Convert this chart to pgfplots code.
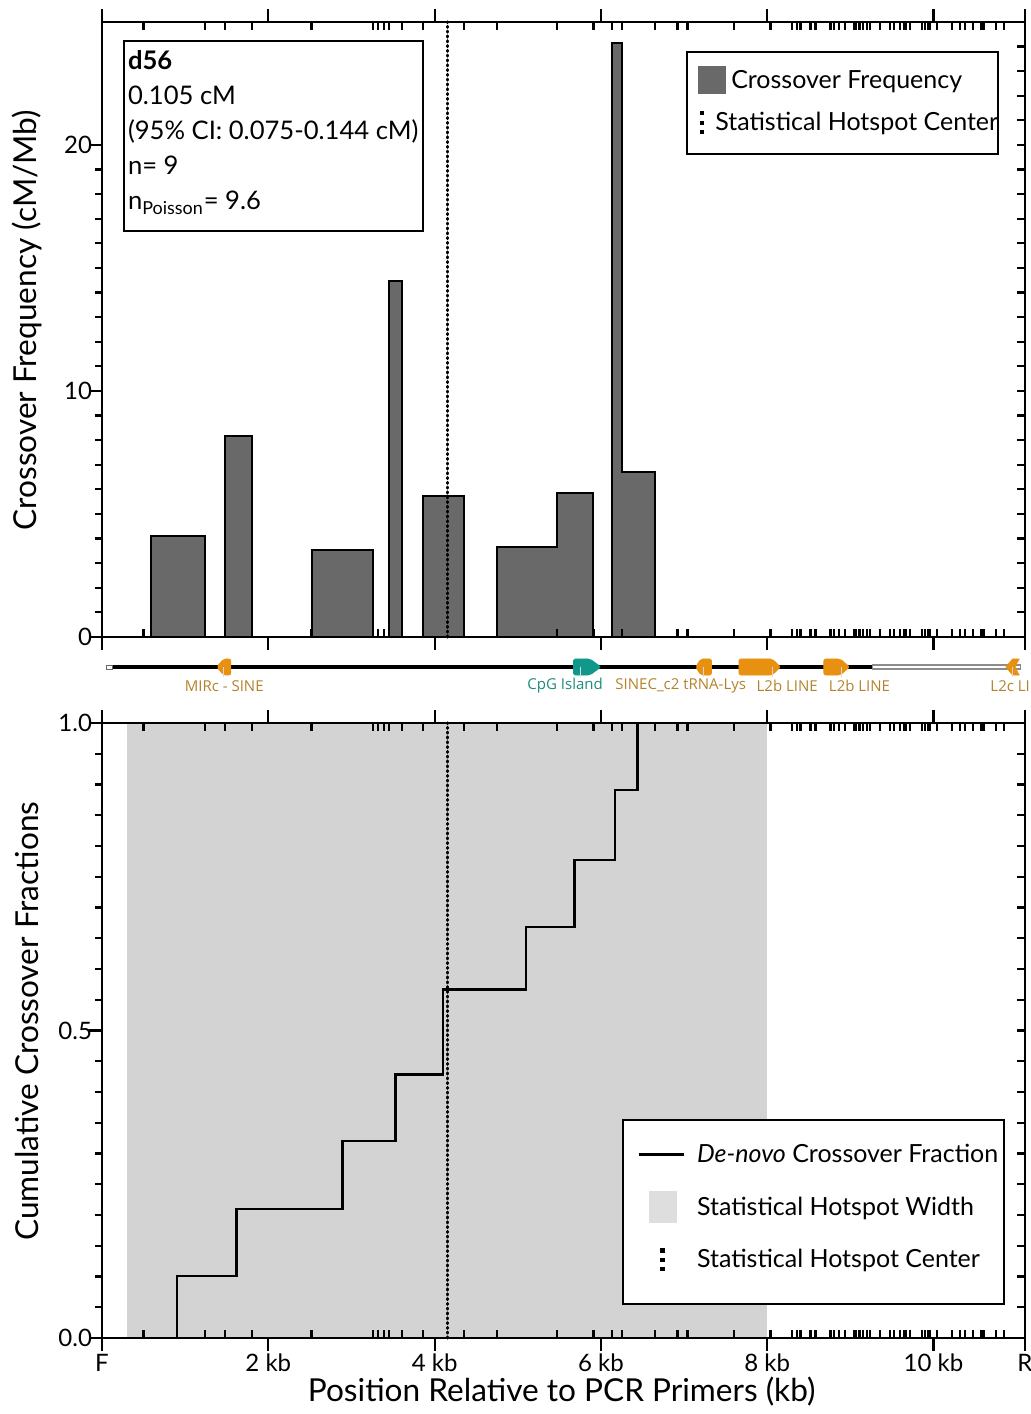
\documentclass[border=0pt]{standalone}
\usepackage{fontspec}
\setmainfont{Lato}
\newfontfamily\trackfont{Open Sans}
\usepackage{pgfplots}
\pgfplotsset{compat=1.18}

\definecolor{barfill}{HTML}{696969}
\definecolor{shade}{HTML}{D3D3D3}
\definecolor{shadelegend}{HTML}{DEDEDE}
\definecolor{repeatorange}{HTML}{E8900F}
\definecolor{repeatlabel}{HTML}{B5822C}
\definecolor{cpgteal}{HTML}{10998A}
\definecolor{cpglabel}{HTML}{1E8A7C}

% genotyped marker positions (kb from the forward primer)
\def\markerlist{0.50,1.24,1.48,1.80,2.52,3.26,3.32,3.39,3.45,3.61,3.86,4.35,4.75,5.47,5.91,6.13,6.25,6.65,6.92,7.04,7.60,8.04,8.30,8.36,8.40,8.52,8.58,8.76,8.80,8.86,8.94,9.04,9.07,9.11,9.15,9.20,9.24,9.36,9.48,9.52,9.60,9.64,9.67,9.72,9.86,9.90,9.94,9.96,10.04,10.22,10.32,10.38,10.47,10.57,10.60,10.75,10.85}

\tikzset{
  hotspot/.style={line width=1.55pt, dash pattern=on 0.5pt off 1.9pt, line cap=round, black},
  hotspotkey/.style={line width=2.1pt, dash pattern=on 2.1pt off 2.6pt, line cap=butt, black},
}

\pgfplotsset{
  panel/.style={
    scale only axis, width=461.5pt, height=307.5pt,
    xmin=0, xmax=11.1, anchor=south west, clip=false,
    axis line style={line width=1.2pt},
    every tick/.style={black, line width=1.1pt},
    /pgf/number format/assume math mode=true,
    tick label style={font=\fontsize{12}{12}\selectfont},
    yticklabel style={xshift=5pt},
    xticklabel style={yshift=2pt},
  },
  outerticks/.style={
    panel, tick align=outside,
    xtick={0,2,4,6,8,10,11.1}, xtick pos=both, ytick pos=left,
    major tick length=6.5pt, minor tick length=3.5pt,
  },
  innerticks/.style={
    panel, tick align=inside,
    xtick=\markerlist, xtick pos=both, ytick pos=right,
    xticklabels={}, yticklabels={},
    major tick length=4pt,
  },
  ylab/.style={every axis y label/.style={at={(axis description cs:-0.0813,0.515)},
    rotate=90, anchor=center, font=\fontsize{15.8}{18}\selectfont}},
}

\begin{document}
\begin{tikzpicture}
\useasboundingbox (0,0) rectangle (515.5pt,707pt);

% ---------------- upper panel: crossover frequency ----------------
\begin{axis}[outerticks, at={(51pt,388.5pt)},
  ymin=0, ymax=25, ytick={0,10,20}, minor y tick num=9,
  xticklabels={},
  ylabel={Crossover Frequency (cM/Mb)}, ylab,
]
\addplot[const plot, fill=barfill, draw=black, line width=1pt] coordinates {
  (0.59,4.10) (1.24,0) (1.48,8.17) (1.80,0) (2.52,3.54) (3.26,0)
  (3.45,14.47) (3.61,0) (3.86,5.73) (4.35,0) (4.75,3.66) (5.47,5.85)
  (5.91,0) (6.13,24.15) (6.25,6.70) (6.65,0)
} \closedcycle;
\addplot[hotspot] coordinates {(4.15,0) (4.15,25)};
% summary box
\node[draw, line width=1pt, fill=white, anchor=north west, inner sep=0pt,
  minimum width=149.5pt, minimum height=95pt] (sumbox)
  at (rel axis cs:0.0228,0.971) {};
\node[anchor=north west, align=left, inner sep=0pt,
  font=\fontsize{12.8}{17.5}\selectfont]
  at ([xshift=2.3pt,yshift=-5.2pt]sumbox.north west)
  {\textbf{d56}\\0.105 cM\\(95\% CI: 0.075-0.144 cM)\\n= 9\\n\textsubscript{Poisson}= 9.6};
\end{axis}

\begin{axis}[innerticks, at={(51pt,388.5pt)},
  ymin=0, ymax=25, ytick={0,1,...,25},
  legend style={at={(0.633,0.953)}, anchor=north west, draw=black, line width=1pt,
    fill=white, font=\fontsize{12.5}{14}\selectfont, inner xsep=5.5pt, inner ysep=7pt,
    row sep=6.5pt, /tikz/every odd column/.append style={column sep=0.5pt}},
  legend cell align=left,
]
\addlegendimage{legend image code/.code={\fill[barfill] (0pt,-6.5pt) rectangle (13pt,6.5pt);}}
\addlegendentry{Crossover Frequency}
\addlegendimage{legend image code/.code={\draw[hotspotkey] (1.5pt,5.8pt) -- (1.5pt,-5.8pt); \path (1.5pt,-8pt);}}
\addlegendentry{\kern-8pt Statistical Hotspot Center\kern-7.5pt}
\end{axis}

% ---------------- annotation track ----------------
\begin{axis}[scale only axis, width=461.5pt, height=35pt, at={(51pt,349.5pt)},
  anchor=south west, xmin=0, xmax=11.1, ymin=0, ymax=1, hide axis, clip=false]
\addplot[draw=black!60, fill=white, line width=0.5pt] coordinates {(0.06,0.657) (0.13,0.657) (0.13,0.714) (0.06,0.714)} -- cycle;
\addplot[black, line width=1.7pt] coordinates {(0.13,0.686) (9.27,0.686)};
\addplot[draw=black!45, fill=white, line width=0.6pt] coordinates {(9.27,0.657) (11.05,0.657) (11.05,0.714) (9.27,0.714)} -- cycle;
% repeat elements and CpG island
\addplot[fill=repeatorange, draw=repeatorange, line width=0.3pt, rounded corners=1pt] coordinates {(1.38,0.686) (1.46,0.8) (1.55,0.8) (1.55,0.571) (1.46,0.571)} -- cycle;
\addplot[fill=cpgteal, draw=cpgteal, line width=0.3pt, rounded corners=1pt] coordinates {(5.67,0.571) (5.87,0.571) (6.00,0.686) (5.87,0.8) (5.67,0.8)} -- cycle;
\addplot[fill=repeatorange, draw=repeatorange, line width=0.3pt, rounded corners=1pt] coordinates {(7.14,0.686) (7.20,0.8) (7.33,0.8) (7.33,0.571) (7.20,0.571)} -- cycle;
\addplot[fill=repeatorange, draw=repeatorange, line width=0.3pt, rounded corners=1pt] coordinates {(7.66,0.571) (8.06,0.571) (8.16,0.686) (8.06,0.8) (7.66,0.8)} -- cycle;
\addplot[fill=repeatorange, draw=repeatorange, line width=0.3pt, rounded corners=1pt] coordinates {(8.68,0.571) (8.88,0.571) (8.99,0.686) (8.88,0.8) (8.68,0.8)} -- cycle;
\addplot[fill=repeatorange, draw=repeatorange, line width=0.3pt] coordinates {(10.87,0.686) (10.95,0.8) (11.03,0.8) (10.98,0.686) (11.03,0.571) (10.95,0.571)} -- cycle;
\foreach \c in {1.46,5.76,7.23,8.06,8.89,10.95} {
  \edef\temp{\noexpand\addplot[white!85!black, line width=0.5pt] coordinates {(\c,0.686) (\c,0.54)};}
  \temp
}
\node[font=\trackfont\fontsize{7.5}{8}\selectfont, text=repeatlabel] at (axis cs:1.47,0.414) {MIRc - SINE};
\node[font=\trackfont\fontsize{7.5}{8}\selectfont, text=cpglabel] at (axis cs:5.57,0.414) {CpG Island};
\node[font=\trackfont\fontsize{7.5}{8}\selectfont, text=repeatlabel] at (axis cs:6.96,0.414) {SINEC\_c2 tRNA-Lys};
\node[font=\trackfont\fontsize{7.5}{8}\selectfont, text=repeatlabel] at (axis cs:8.24,0.414) {L2b LINE};
\node[font=\trackfont\fontsize{7.5}{8}\selectfont, text=repeatlabel] at (axis cs:9.11,0.414) {L2b LINE};
\node[font=\trackfont\fontsize{7.5}{8}\selectfont, text=repeatlabel, anchor=west] at (axis cs:10.60,0.414) {L2c LI};
\end{axis}

% ---------------- lower panel: cumulative crossover fraction ----------------
\begin{axis}[outerticks, at={(51pt,38pt)},
  ymin=0, ymax=1, ytick={0,0.5,1}, minor y tick num=9,
  yticklabel style={/pgf/number format/.cd, fixed, fixed zerofill, precision=1},
  xticklabels={F,2 kb,4 kb,6 kb,8 kb,10 kb,R},
  xlabel={Position Relative to PCR Primers (kb)},
  every axis x label/.style={at={(axis description cs:0.498,-0.0878)}, anchor=center,
    font=\fontsize{15.8}{18}\selectfont},
  ylabel={Cumulative Crossover Fractions}, ylab,
]
\addplot[fill=shade, draw=none] coordinates {(0.30,0) (0.30,1) (8.00,1) (8.00,0)} -- cycle;
\addplot[hotspot] coordinates {(4.15,0) (4.15,1)};
\addplot[const plot, black, line width=1.3pt] coordinates {
  (0.90,0) (0.90,0.101) (1.62,0.210) (2.89,0.320) (3.53,0.428)
  (4.10,0.567) (5.10,0.668) (5.68,0.777) (6.17,0.891) (6.44,1.0)
};
\end{axis}

\begin{axis}[innerticks, at={(51pt,38pt)},
  ymin=0, ymax=1, ytick={0,0.05,...,1.001},
  legend style={at={(0.5634,0.356)}, anchor=north west, draw=black, line width=1pt,
    fill=white, font=\fontsize{12.5}{14}\selectfont, inner xsep=7pt, inner ysep=10pt,
    row sep=11pt, /tikz/every odd column/.append style={column sep=4pt}},
  legend cell align=left,
]
\addlegendimage{legend image code/.code={\draw[black, line width=1.5pt] (0pt,0pt) -- (22.5pt,0pt);}}
\addlegendentry{\textit{De-novo} Crossover Fraction\kern-6pt}
\addlegendimage{legend image code/.code={\fill[shadelegend] (5.5pt,-7.5pt) rectangle (18.5pt,7.5pt);}}
\addlegendentry{Statistical Hotspot Width}
\addlegendimage{legend image code/.code={\draw[hotspotkey] (12pt,5.8pt) -- (12pt,-5.8pt); \path (12pt,-11.5pt);}}
\addlegendentry{Statistical Hotspot Center}
\end{axis}
\end{tikzpicture}
\end{document}
